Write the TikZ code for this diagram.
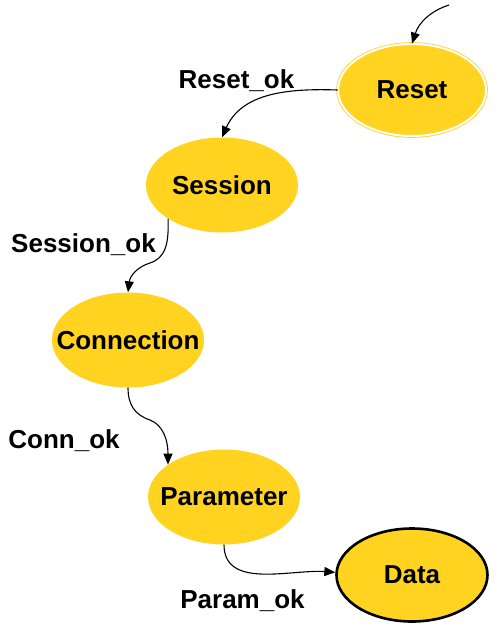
\documentclass[tikz,border=0pt]{standalone}
\usepackage{fontspec}
\setmainfont{Liberation Sans}
\usetikzlibrary{shapes.geometric,arrows.meta}
\definecolor{gold}{RGB}{255,211,32}
\newcommand{\stx}[1]{\makebox[0pt]{#1}}
\tikzset{
  state/.style={ellipse, fill=gold, minimum width=152pt, minimum height=95pt, inner sep=0pt,
    font=\fontsize{26}{30}\selectfont\bfseries},
  lbl/.style={anchor=base, inner sep=0pt, font=\fontsize{26}{30}\selectfont\bfseries},
  conn/.style={-{Triangle[length=11pt,width=9pt]}, line width=1.1pt, black}
}
\begin{document}
\begin{tikzpicture}[x=1pt,y=1pt]
\useasboundingbox (0,0) rectangle (498,-632);
\node[state, draw=gold, line width=0.8pt, double=white, double distance=2pt, minimum width=148pt, minimum height=92pt] (reset) at (412,-90) {\stx{Reset}};
\node[state] (session) at (222,-185) {\stx{Session}};
\node[state] (connection) at (128,-340) {\stx{Connection}};
\node[state] (parameter) at (224,-497) {\stx{Parameter}};
\node[state, draw=black, line width=2.6pt, minimum width=151pt, minimum height=93pt] (data) at (412,-575) {\stx{Data}};
\coordinate (init) at (449,-5);
\node[lbl] (l1) at (236.5,-88) {Reset\_ok};
\node[lbl] (l2) at (83.5,-252) {Session\_ok};
\node[lbl] (l3) at (64,-448) {Conn\_ok};
\node[lbl] (l4) at (242.5,-608) {Param\_ok};
\draw[conn] (init) to[out=198, in=72] (reset.north);
\draw[conn] (reset.west) to[out=178, in=66] (session.north);
\draw[conn] (session.212) .. controls (169,-245) and (165,-258) .. (150,-263)
   .. controls (137,-267) and (130,-276) .. (connection.north);
\draw[conn] (connection.south) .. controls (128,-405) and (135,-415) .. (150,-420)
   .. controls (163,-425) and (168,-440) .. (parameter.150);
\draw[conn] (parameter.south) to[out=-90, in=176] (data.178);
\end{tikzpicture}
\end{document}
